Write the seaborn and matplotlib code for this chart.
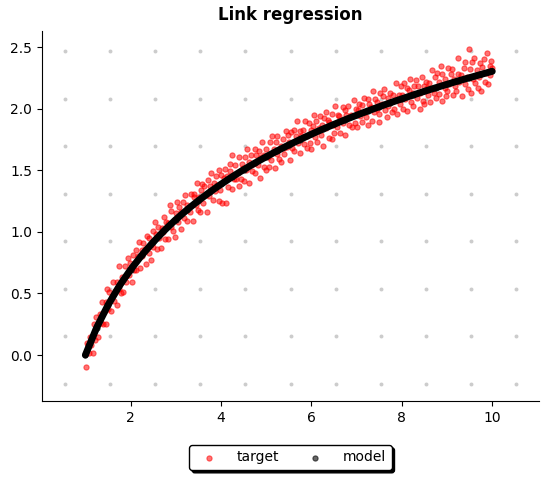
import matplotlib
matplotlib.use("Agg")
import matplotlib.pyplot as plt
import seaborn as sns
import pandas as pd

# ---- data ----
target_x = [
1.004,1.031,1.058,1.083, 1.112,1.127,1.166,1.191, 1.208,1.244,1.252,1.279, 1.319,1.336,1.371,1.397,
1.402,1.449,1.463,1.488, 1.504,1.531,1.558,1.583, 1.612,1.627,1.666,1.691, 1.708,1.744,1.752,1.779,
1.819,1.836,1.871,1.897, 1.902,1.949,1.963,1.988,
2.004,2.031,2.058,2.083, 2.112,2.127,2.166,2.191, 2.208,2.244,2.252,2.279, 2.319,2.336,2.371,2.397,
2.402,2.449,2.463,2.488, 2.504,2.531,2.558,2.583, 2.612,2.627,2.666,2.691, 2.708,2.744,2.752,2.779,
2.819,2.836,2.871,2.897, 2.902,2.949,2.963,2.988,
3.004,3.031,3.058,3.083, 3.112,3.127,3.166,3.191, 3.208,3.244,3.252,3.279, 3.319,3.336,3.371,3.397,
3.402,3.449,3.463,3.488, 3.504,3.531,3.558,3.583, 3.612,3.627,3.666,3.691, 3.708,3.744,3.752,3.779,
3.819,3.836,3.871,3.897, 3.902,3.949,3.963,3.988,
4.004,4.031,4.058,4.083, 4.112,4.127,4.166,4.191, 4.208,4.244,4.252,4.279, 4.319,4.336,4.371,4.397,
4.402,4.449,4.463,4.488, 4.504,4.531,4.558,4.583, 4.612,4.627,4.666,4.691, 4.708,4.744,4.752,4.779,
4.819,4.836,4.871,4.897, 4.902,4.949,4.963,4.988,
5.004,5.031,5.058,5.083, 5.112,5.127,5.166,5.191, 5.208,5.244,5.252,5.279, 5.319,5.336,5.371,5.397,
5.402,5.449,5.463,5.488, 5.504,5.531,5.558,5.583, 5.612,5.627,5.666,5.691, 5.708,5.744,5.752,5.779,
5.819,5.836,5.871,5.897, 5.902,5.949,5.963,5.988,
6.004,6.031,6.058,6.083, 6.112,6.127,6.166,6.191, 6.208,6.244,6.252,6.279, 6.319,6.336,6.371,6.397,
6.402,6.449,6.463,6.488, 6.504,6.531,6.558,6.583, 6.612,6.627,6.666,6.691, 6.708,6.744,6.752,6.779,
6.819,6.836,6.871,6.897, 6.902,6.949,6.963,6.988,
7.004,7.031,7.058,7.083, 7.112,7.127,7.166,7.191, 7.208,7.244,7.252,7.279, 7.319,7.336,7.371,7.397,
7.402,7.449,7.463,7.488, 7.504,7.531,7.558,7.583, 7.612,7.627,7.666,7.691, 7.708,7.744,7.752,7.779,
7.819,7.836,7.871,7.897, 7.902,7.949,7.963,7.988,
8.004,8.031,8.058,8.083, 8.112,8.127,8.166,8.191, 8.208,8.244,8.252,8.279, 8.319,8.336,8.371,8.397,
8.402,8.449,8.463,8.488, 8.504,8.531,8.558,8.583, 8.612,8.627,8.666,8.691, 8.708,8.744,8.752,8.779,
8.819,8.836,8.871,8.897, 8.902,8.949,8.963,8.988,
9.004,9.031,9.058,9.083, 9.112,9.127,9.166,9.191, 9.208,9.244,9.252,9.279, 9.319,9.336,9.371,9.397,
9.402,9.449,9.463,9.488, 9.504,9.531,9.558,9.583, 9.612,9.627,9.666,9.691, 9.708,9.744,9.752,9.779,
9.819,9.836,9.871,9.897, 9.902,9.949,9.963,9.988,
9.998]

target_y = [
-0.10,0.10,0.08,0.02, 0.15,0.08,0.02,0.25, 0.12,0.31,0.24,0.15, 0.33,0.26,0.43,0.25,
0.35,0.25,0.43,0.54, 0.37,0.51,0.36,0.48, 0.59,0.44,0.52,0.41, 0.59,0.54,0.72,0.50,
0.63,0.51,0.72,0.64, 0.59,0.79,0.65,0.75, 0.71,0.59,0.81,0.69, 0.85,0.69,0.80,0.92,
0.71,0.85,0.80,0.91, 0.86,0.74,0.97,0.83, 0.95,0.89,0.77,1.01, 0.88,1.08,0.98,0.86,
1.04,0.95,0.87,1.03, 1.00,1.12,0.94,1.08, 0.94,1.07,1.22,1.04, 1.17,1.01,1.10,0.96,
1.15,1.24,1.08,1.20, 1.02,1.16,1.24,1.11, 1.30,1.09,1.22,1.19, 1.16,1.31,1.09,1.28,
1.31,1.22,1.40,1.18, 1.28,1.16,1.34,1.39, 1.23,1.37,1.30,1.16, 1.42,1.29,1.37,1.48,
1.26,1.40,1.33,1.45, 1.38,1.25,1.50,1.34, 1.46,1.23,1.44,1.51, 1.23,1.45,1.36,1.55,
1.49,1.35,1.62,1.43, 1.54,1.43,1.48,1.37, 1.61,1.43,1.55,1.52, 1.41,1.61,1.50,1.67,
1.57,1.40,1.62,1.49, 1.55,1.67,1.48,1.62, 1.54,1.66,1.44,1.61, 1.73,1.53,1.62,1.50,
1.67,1.61,1.53,1.73, 1.58,1.78,1.67,1.52, 1.73,1.63,1.78,1.59, 1.70,1.57,1.75,1.68,
1.63,1.82,1.69,1.79, 1.73,1.58,1.81,1.68, 1.83,1.66,1.78,1.90, 1.72,1.82,1.64,1.78,
1.83,1.71,1.90,1.68, 1.78,1.88,1.72,1.83, 1.67,1.86,1.95,1.77, 1.90,1.73,1.84,1.94,
1.79,1.87,1.70,1.92, 1.97,1.84,1.91,1.76, 1.89,1.75,1.96,1.87, 1.80,2.02,1.85,1.95,
1.94,1.80,1.90,2.01, 1.88,1.99,1.79,1.95, 2.02,1.87,1.95,1.85, 1.94,2.07,1.88,2.00,
1.85,1.99,2.04,1.94, 2.03,1.89,2.09,1.97, 1.93,2.08,1.87,2.04, 2.01,1.90,2.14,1.97,
2.08,2.00,2.05,1.89, 1.96,2.13,2.04,2.10, 2.16,1.99,1.93,2.09, 2.02,2.13,2.05,1.97,
2.11,2.00,2.21,2.08, 1.96,2.11,2.04,2.18, 2.11,2.00,2.21,2.08, 2.17,1.98,2.15,2.24,
2.05,2.13,2.02,2.18, 2.23,2.09,2.18,2.00, 2.13,2.26,2.06,2.18, 2.04,2.22,2.17,2.11,
2.21,2.05,2.31,2.16, 2.13,2.26,2.09,2.29, 2.22,2.12,2.35,2.06, 2.28,2.17,2.24,2.10,
2.14,2.33,2.20,2.28, 2.32,2.11,2.24,2.18, 2.14,2.28,2.41,2.22, 2.27,2.10,2.33,2.38,
2.20,2.26,2.16,2.48, 2.32,2.13,2.38,2.24, 2.41,2.21,2.31,2.17, 2.26,2.37,2.14,2.34,
2.40,2.22,2.29,2.45, 2.20,2.35,2.27,2.39, 2.33]

model_x = [1.0,1.25,1.5,1.75,2.0,2.25,2.5,2.75,3.0,3.25,3.5,3.75,4.0,4.25,4.5,4.75,
           5.0,5.25,5.5,5.75,6.0,6.25,6.5,6.75,7.0,7.25,7.5,7.75,8.0,8.25,8.5,8.75,
           9.0,9.25,9.5,9.75,10.0]
model_y = [0.000,0.223,0.405,0.560,0.693,0.811,0.916,1.012,1.099,1.179,1.253,1.322,
           1.386,1.447,1.504,1.558,1.609,1.658,1.705,1.749,1.792,1.833,1.872,1.910,
           1.946,1.981,2.015,2.048,2.079,2.110,2.140,2.169,2.197,2.225,2.251,2.277,2.303]

grid_dot_x = [0.54,1.54,2.54,3.54,4.54,5.54,6.54,7.54,8.53,9.53,10.53]
grid_dot_y = [-0.235,0.151,0.537,0.923,1.309,1.694,2.080,2.466]

x_ticks = [2, 4, 6, 8, 10]
y_ticks = [0.0, 0.5, 1.0, 1.5, 2.0, 2.5]

# ---- figure ----
fig = plt.figure(figsize=(5.47, 4.8), dpi=100)
ax = fig.add_axes([0.0768, 0.1646, 0.9086, 0.7708])

bg = pd.DataFrame([(gx, gy) for gy in grid_dot_y for gx in grid_dot_x], columns=["x", "y"])
sns.scatterplot(data=bg, x="x", y="y", color="#cccccc", s=8, linewidth=0,
                ax=ax, legend=False, zorder=1)

tdf = pd.DataFrame({"x": target_x, "y": target_y})
sns.scatterplot(data=tdf, x="x", y="y", color="red", alpha=0.55, s=14,
                edgecolor="face", linewidth=0.8, ax=ax, label="target", zorder=2)

mdf = pd.DataFrame({"x": model_x, "y": model_y})
sns.lineplot(data=mdf, x="x", y="y", color="black", lw=5, ax=ax,
             legend=False, zorder=3, solid_capstyle="round")
sns.scatterplot(data=mdf, x="x", y="y", color="black", alpha=0.6, s=14,
                edgecolor="face", linewidth=0.8, ax=ax, label="model", zorder=4)

ax.set_xlim(0.04, 11.04)
ax.set_ylim(-0.373, 2.63)
ax.set_xticks(x_ticks)
ax.set_yticks(y_ticks)
ax.set_xlabel("")
ax.set_ylabel("")
ax.spines["top"].set_visible(False)
ax.spines["right"].set_visible(False)
ax.set_title("Link regression", fontsize=12, fontweight="bold", pad=8)

leg = ax.legend(loc="upper center", bbox_to_anchor=(0.5, -0.1), ncol=2,
                shadow={"color": "black", "alpha": 1.0}, fancybox=True,
                framealpha=1, columnspacing=1.6, handletextpad=1.0)
leg.get_frame().set_edgecolor("black")

fig.savefig("out.png", dpi=100)
